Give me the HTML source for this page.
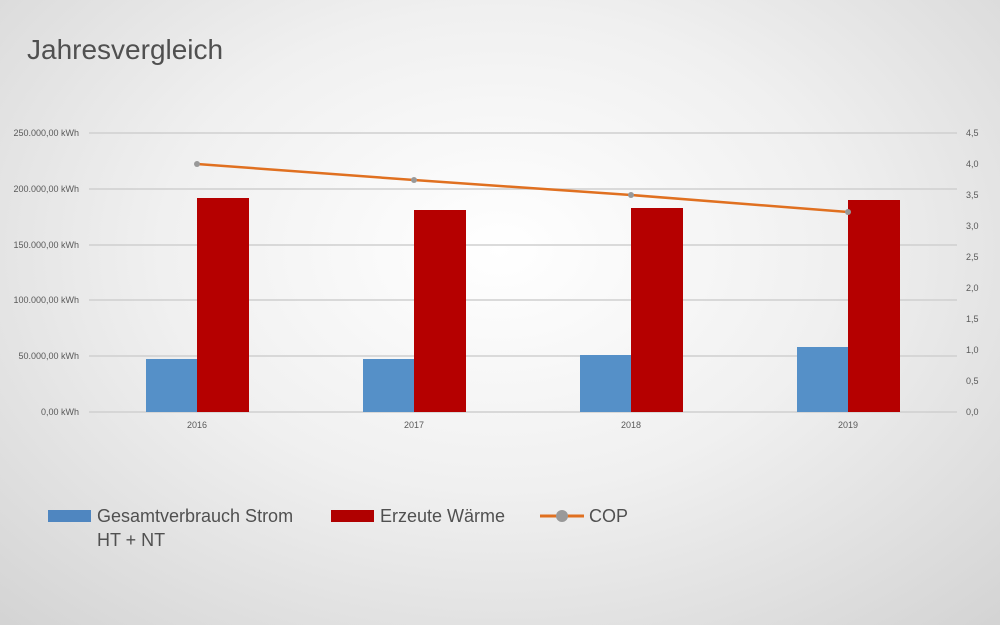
<!DOCTYPE html>
<html><head><meta charset="utf-8"><style>
html,body{margin:0;padding:0}
body{width:1000px;height:625px;overflow:hidden;background:radial-gradient(ellipse 75% 85% at 50% 40%,#ffffff 0%,#f0f0f0 45%,#d2d2d2 100%);font-family:"Liberation Sans",sans-serif}
</style></head><body>
<svg width="1000" height="625" style="position:absolute;left:0;top:0" font-family="Liberation Sans, sans-serif">
<text x="27" y="59" font-size="28" fill="#505050">Jahresvergleich</text>
<g stroke="#cfcfcf" stroke-width="1.5">
<line x1="89" x2="957" y1="133" y2="133"/><line x1="89" x2="957" y1="189" y2="189"/>
<line x1="89" x2="957" y1="245" y2="245"/><line x1="89" x2="957" y1="300" y2="300"/>
<line x1="89" x2="957" y1="356" y2="356"/><line x1="89" x2="957" y1="412" y2="412"/>
</g>
<g font-size="9" fill="#595959" text-anchor="end">
<text x="79" y="136">250.000,00 kWh</text><text x="79" y="192">200.000,00 kWh</text>
<text x="79" y="248">150.000,00 kWh</text><text x="79" y="303">100.000,00 kWh</text>
<text x="79" y="359">50.000,00 kWh</text><text x="79" y="415">0,00 kWh</text>
</g>
<g font-size="9" fill="#595959">
<text x="966" y="136">4,5</text><text x="966" y="167">4,0</text><text x="966" y="198">3,5</text>
<text x="966" y="229">3,0</text><text x="966" y="260">2,5</text><text x="966" y="291">2,0</text>
<text x="966" y="322">1,5</text><text x="966" y="353">1,0</text><text x="966" y="384">0,5</text>
<text x="966" y="415">0,0</text>
</g>
<g fill="#5590c8">
<rect x="146" y="359" width="51" height="53"/><rect x="363" y="359" width="51" height="53"/>
<rect x="580" y="355" width="51" height="57"/><rect x="797" y="347" width="51" height="65"/>
</g>
<g fill="#b50000">
<rect x="197" y="198" width="52" height="214"/><rect x="414" y="210" width="52" height="202"/>
<rect x="631" y="208" width="52" height="204"/><rect x="848" y="200" width="52" height="212"/>
</g>
<polyline points="197,164 414,180 631,195 848,212" fill="none" stroke="#e07020" stroke-width="2.5"/>
<g fill="#999"><circle cx="197" cy="164" r="3"/><circle cx="414" cy="180" r="3"/><circle cx="631" cy="195" r="3"/><circle cx="848" cy="212" r="3"/></g>
<g font-size="9" fill="#595959" text-anchor="middle">
<text x="197" y="428">2016</text><text x="414" y="428">2017</text><text x="631" y="428">2018</text><text x="848" y="428">2019</text>
</g>
<rect x="48" y="510" width="43" height="12" fill="#4f86c0"/>
<text x="97" y="522" font-size="18" fill="#505050">Gesamtverbrauch Strom</text>
<text x="97" y="546" font-size="18" fill="#505050">HT + NT</text>
<rect x="331" y="510" width="43" height="12" fill="#b00000"/>
<text x="380" y="522" font-size="18" fill="#505050">Erzeute Wärme</text>
<line x1="540" x2="584" y1="516" y2="516" stroke="#e07020" stroke-width="3"/>
<circle cx="562" cy="516" r="6" fill="#999"/>
<text x="589" y="522" font-size="18" fill="#505050">COP</text>
</svg>
</body></html>
